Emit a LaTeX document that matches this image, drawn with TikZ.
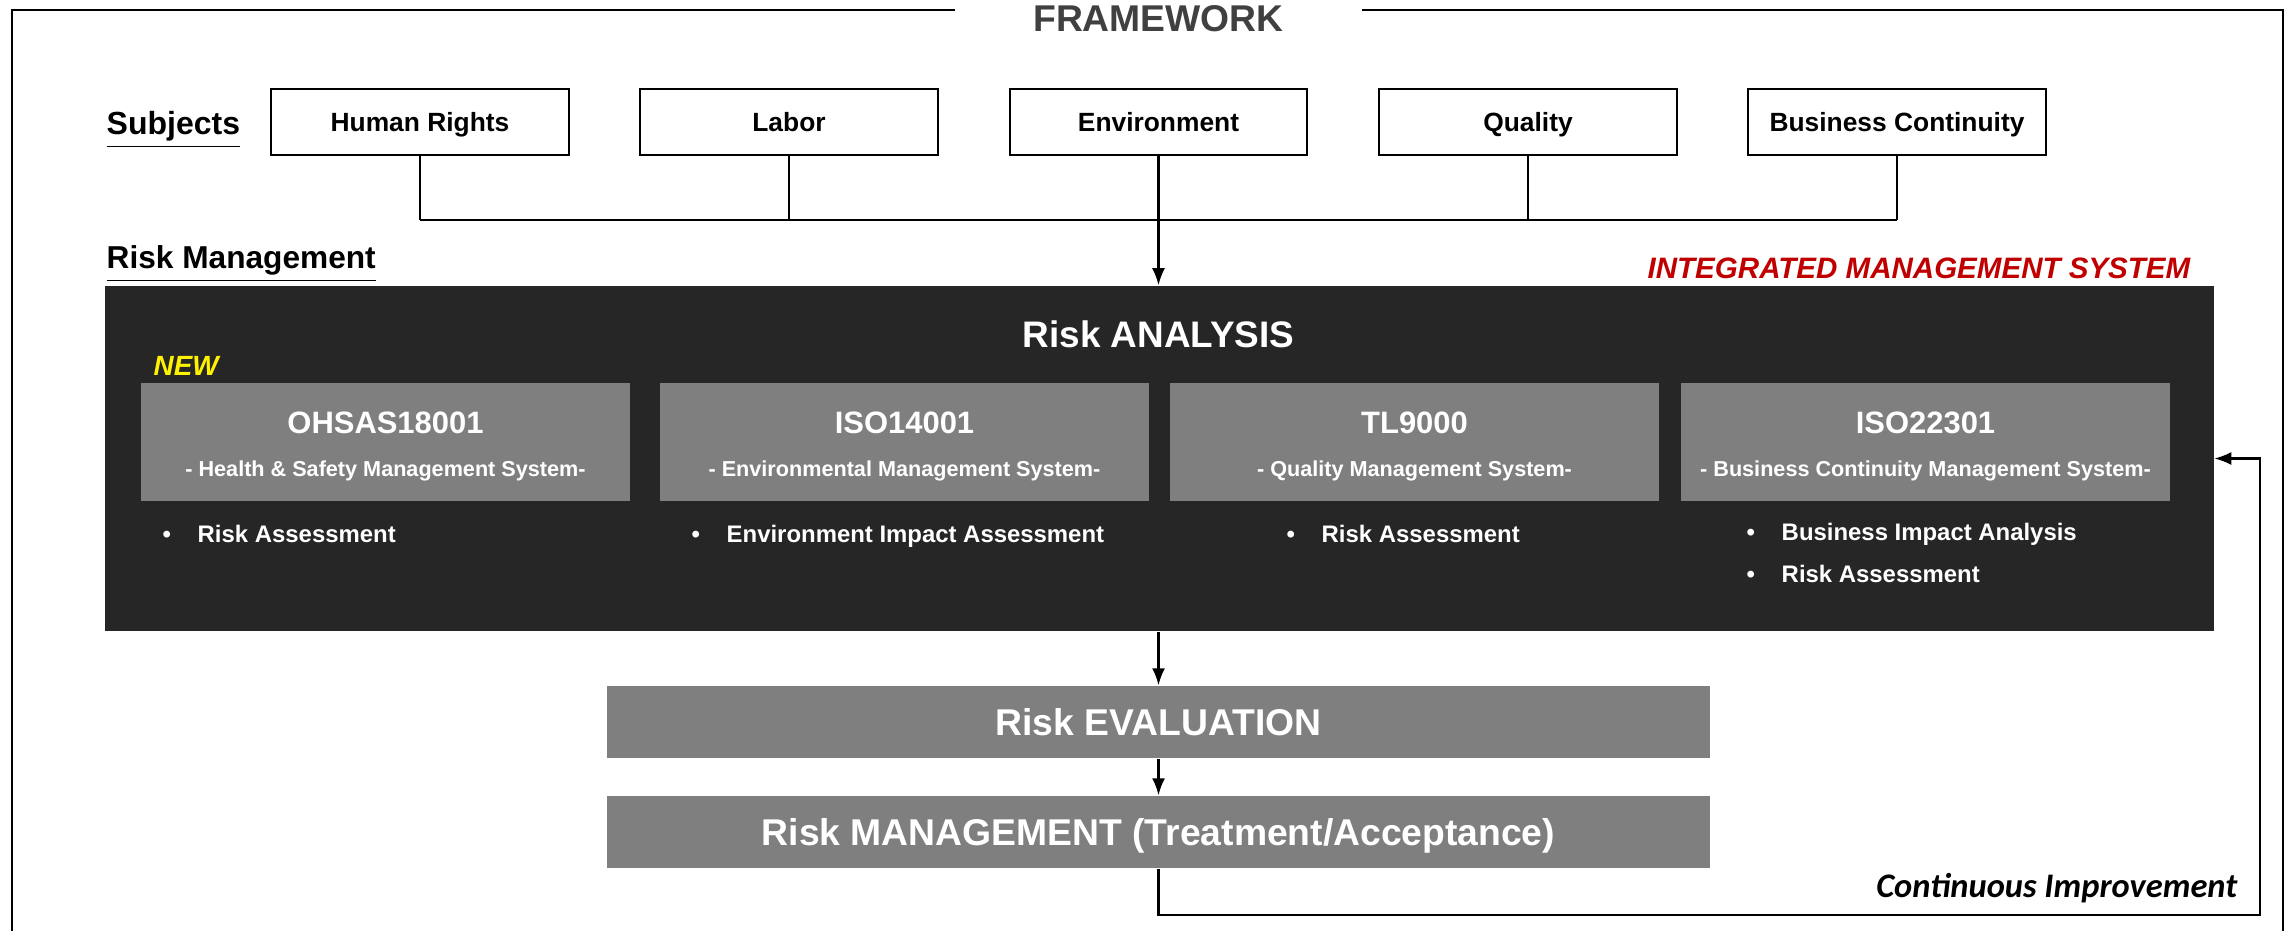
\documentclass[tikz,border=0pt]{standalone}
\usepackage{fontspec}
\setmainfont{Liberation Sans}
\newfontfamily\cifont{Carlito}
\usetikzlibrary{arrows.meta,positioning}
\definecolor{darkbox}{HTML}{262626}
\definecolor{stdgrey}{HTML}{7F7F7F}
\definecolor{imsred}{HTML}{C00000}
\definecolor{fwgrey}{HTML}{404040}
\newcommand{\boldsz}[1]{\fontsize{#1}{#1}\selectfont\bfseries}
\newcommand{\bul}{\makebox[0.35cm][l]{\textbullet}}
\tikzstyle{subject}=[draw,line width=0.6pt,minimum width=2.97cm,minimum height=0.66cm,inner sep=0pt,text height=0.19cm,text depth=0pt,font=\boldsz{7.5}]
\tikzstyle{standard}=[fill=stdgrey,minimum width=4.89cm,minimum height=1.18cm,inner sep=0pt]
\tikzstyle{stage}=[fill=stdgrey,minimum width=11.03cm,minimum height=0.72cm,inner sep=0pt,text=white,text height=0.27cm,text depth=0pt,font=\boldsz{10.6}]
\tikzstyle{wtext}=[text=white,inner sep=0pt,anchor=base]
\tikzstyle{item}=[text=white,inner sep=0pt,anchor=base west,font=\boldsz{6.8}]
\tikzstyle{edge}=[draw,line width=0.6pt]
\tikzstyle{arr}=[draw,line width=0.6pt,-{Latex[length=0.17cm,width=0.13cm]}]

\begin{document}
\begin{tikzpicture}[x=0.01cm,y=-0.01cm]
    \useasboundingbox (0,0) rectangle (2285,931);
    % outer frame with its title
    \draw[line width=0.8pt] (12,931) -- (12,10) -- (2283,10) -- (2283,931);
    \node[fill=white,minimum width=4.07cm,inner ysep=4pt,anchor=base,text=fwgrey,font=\boldsz{10.6}] (fw) at (1158.5,32) {FRAMEWORK};

    % subjects
    \node[anchor=base west,inner sep=0pt,font=\boldsz{9.1}] (subjects) at (106,135) {\underline{Subjects}};
    \foreach \x/\name/\txt in {420/hr/Human Rights, 789/lab/Labor, 1158.5/env/Environment, 1528/qua/Quality, 1897/bc/Business Continuity}
        \node[subject] (\name) at (\x,122) {\txt};
    \coordinate (bus) at (0,220);
    \foreach \name in {hr, lab, qua, bc}
        \path[edge] (\name.south) -- (\name.south |- bus);
    \path[edge] (hr.south |- bus) -- (bc.south |- bus);

    % risk analysis block
    \node[anchor=base west,inner sep=0pt,font=\boldsz{9.0}] (rmlabel) at (106,269) {\underline{Risk Management}};
    \node[anchor=base east,inner sep=0pt,text=imsred,font=\boldsz{8.4}\itshape] (ims) at (2191,279) {INTEGRATED MANAGEMENT SYSTEM};
    \node[fill=darkbox,minimum width=21.07cm,minimum height=3.45cm,inner sep=0pt] (ra) at (1159.5,458.5) {};
    \path[arr] (env.south) -- (env.south |- ra.north);
    \node[wtext,font=\boldsz{10.5}] (ratitle) at (1158.5,348) {Risk ANALYSIS};
    \node[anchor=base west,inner sep=0pt,text=yellow,font=\boldsz{7.9}\itshape] (new) at (153,376) {NEW};
    \foreach \x/\name/\title/\sub in {385.5/ohsas/OHSAS18001/Health \& Safety Management System, 904.5/isoa/ISO14001/Environmental Management System, 1414.5/tl/TL9000/Quality Management System, 1925.5/isob/ISO22301/Business Continuity Management System}
    {
        \node[standard] (\name) at (\x,442) {};
        \node[wtext,font=\boldsz{8.8}] (\name-t) at (\x,434) {\title};
        \node[wtext,font=\boldsz{6.15}] (\name-s) at (\x,477) {- \sub-};
    }
    \foreach \pos/\name/\txt in {{(162,543)/itema/Risk Assessment}, {(691,543)/itemb/Environment Impact Assessment}, {(1286,543)/itemc/Risk Assessment}, {(1746,541)/itemd/Business Impact Analysis}, {(1746,583)/iteme/Risk Assessment}}
        \node[item] (\name) at \pos {\bul\txt};

    % evaluation and treatment
    \node[stage] (eval) at (1158.5,722) {Risk EVALUATION};
    \node[stage] (mgmt) at (1158.5,832) {Risk MANAGEMENT (Treatment/Acceptance)};
    \path[arr] (eval.north |- ra.south) -- (eval.north);
    \path[arr] (eval.south) -- (mgmt.north);

    % feedback loop
    \coordinate (loop) at (2260,915);
    \path[arr] (mgmt.south) |- (loop) |- (ra.east);
    \node[anchor=base east,inner sep=0pt,font=\cifont\bfseries\itshape\fontsize{9.8}{9.8}\selectfont] (ci) at (2238,897) {Continuous Improvement};
\end{tikzpicture}
\end{document}
